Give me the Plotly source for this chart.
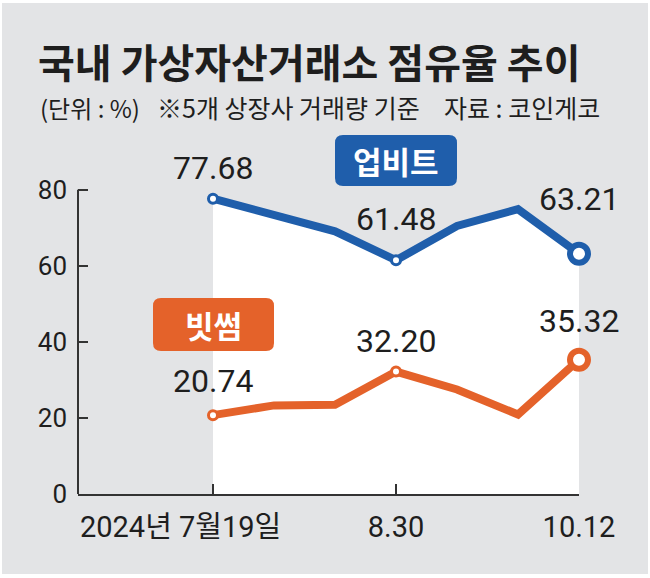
import plotly.graph_objects as go

# 데이터 (단위: %)
dates = ["7.19", "8.2", "8.16", "8.30", "9.13", "9.27", "10.12"]
upbit = [77.68, 73.4, 69.1, 61.48, 70.5, 74.9, 63.21]
bithumb = [20.74, 23.3, 23.5, 32.20, 27.5, 20.9, 35.32]
tick_idx = [0, 3, 6]
tick_text = ["2024년 7월19일" + "\u00a0" * 9, "8.30", "10.12"]
label_idx = [0, 3, 6]
y_ticks = [0, 20, 40, 60, 80]

BLUE = "#1f5eab"
ORANGE = "#e4622a"
BG = "#e3e4e6"
INK = "#1e1e1e"
NUM = "Roboto, Noto Sans CJK KR, sans-serif"
KR = "Noto Sans CJK KR, sans-serif"

W, H = 650, 578
L, R, T, B = 78, 71, 129, 84
PW, PH = W - L - R, H - T - B


def px(x):
    return (x - L) / PW


def py(y):
    return (H - B - y) / PH


def round_box(x0, y0, x1, y1, r):
    # 픽셀 좌표 -> paper 좌표 둥근 사각형
    rx, ry = r / PW, r / PH
    a, b, c, d = px(x0), py(y1), px(x1), py(y0)
    return (
        f"M{a + rx},{b} L{c - rx},{b} Q{c},{b} {c},{b + ry} "
        f"L{c},{d - ry} Q{c},{d} {c - rx},{d} L{a + rx},{d} "
        f"Q{a},{d} {a},{d - ry} L{a},{b + ry} Q{a},{b} {a + rx},{b} Z"
    )


x = list(range(len(dates)))


def marker_style(color):
    sizes = [0] * len(x)
    widths = [0] * len(x)
    for i in label_idx:
        sizes[i] = 9
        widths[i] = 3
    sizes[-1] = 18
    widths[-1] = 6
    return dict(size=sizes, color="white", opacity=1,
                line=dict(color=color, width=widths))


fig = go.Figure()

fig.add_scatter(
    x=x, y=upbit,
    mode="lines+markers",
    line=dict(color=BLUE, width=8),
    fill="tozeroy", fillcolor="white",
    marker=marker_style(BLUE),
    cliponaxis=False,
    name="업비트",
)

fig.add_scatter(
    x=x, y=bithumb,
    mode="lines+markers",
    line=dict(color=ORANGE, width=8),
    marker=marker_style(ORANGE),
    cliponaxis=False,
    name="빗썸",
)

# 값 라벨
up_shift = [31, 41, 55]
bit_shift = [34, 31, 39]
for k, i in enumerate(label_idx):
    for series, shift in ((upbit, up_shift), (bithumb, bit_shift)):
        fig.add_annotation(
            x=i, y=series[i], yshift=shift[k],
            text=f"{series[i]:.2f}",
            showarrow=False, yanchor="middle",
            font=dict(family=NUM, size=32, color=INK),
        )

shapes = [
    dict(type="rect", xref="paper", yref="paper", layer="below",
         x0=px(2), x1=px(648), y0=py(574), y1=py(3),
         fillcolor=BG, line=dict(width=0)),
    dict(type="line", xref="paper", yref="y", x0=0, x1=0, y0=0, y1=80,
         line=dict(color="#333333", width=2)),
    dict(type="path", xref="paper", yref="paper", path=round_box(335, 135, 457, 186, 8),
         fillcolor=BLUE, line=dict(width=0)),
    dict(type="path", xref="paper", yref="paper", path=round_box(153, 298, 274, 351, 8),
         fillcolor=ORANGE, line=dict(width=0)),
]

texts = [
    ("국내 가상자산거래소 점유율 추이", 36, 61, 40, True),
    ("(단위 : %)", 38, 107, 24, False),
    ("※5개 상장사 거래량 기준", 155, 107, 25, False),
    ("자료 : 코인게코", 442, 107, 25, False),
]
for txt, tx, ty, size, bold in texts:
    fig.add_annotation(
        x=px(tx), y=py(ty), xref="paper", yref="paper",
        text=f"<b>{txt}</b>" if bold else txt,
        showarrow=False, xanchor="left", yanchor="middle",
        font=dict(family=KR, size=size, color=INK),
    )

for txt, cx, cy in (("업비트", 396, 160), ("빗썸", 213.5, 324)):
    fig.add_annotation(
        x=px(cx), y=py(cy), xref="paper", yref="paper",
        text=f"<b>{txt}</b>", showarrow=False,
        xanchor="center", yanchor="middle",
        font=dict(family=KR, size=31, color="white"),
    )

fig.update_layout(
    width=W, height=H,
    margin=dict(l=L, r=R, t=T, b=B),
    paper_bgcolor="white",
    plot_bgcolor="rgba(0,0,0,0)",
    showlegend=False,
    shapes=shapes,
    font=dict(family=NUM, color=INK),
)

fig.update_xaxes(
    range=[-2.213, 6],
    tickvals=tick_idx, ticktext=tick_text, tickangle=0,
    ticks="inside", ticklen=10, tickwidth=2, tickcolor="#333333",
    showline=True, linecolor="#333333", linewidth=2,
    showgrid=False, zeroline=False, automargin=False,
    tickfont=dict(family=NUM, size=29, color=INK),
    ticklabelstandoff=6,
)

fig.update_yaxes(
    range=[0, 96],
    tickvals=y_ticks,
    ticks="inside", ticklen=10, tickwidth=2, tickcolor="#333333",
    showline=False, showgrid=False, zeroline=False, automargin=False,
    tickfont=dict(family=NUM, size=26, color=INK),
    ticklabelstandoff=10,
)

fig.write_html(
    "out.html",
    config={"displayModeBar": False},
    post_script="document.body.style.margin='0';",
)
